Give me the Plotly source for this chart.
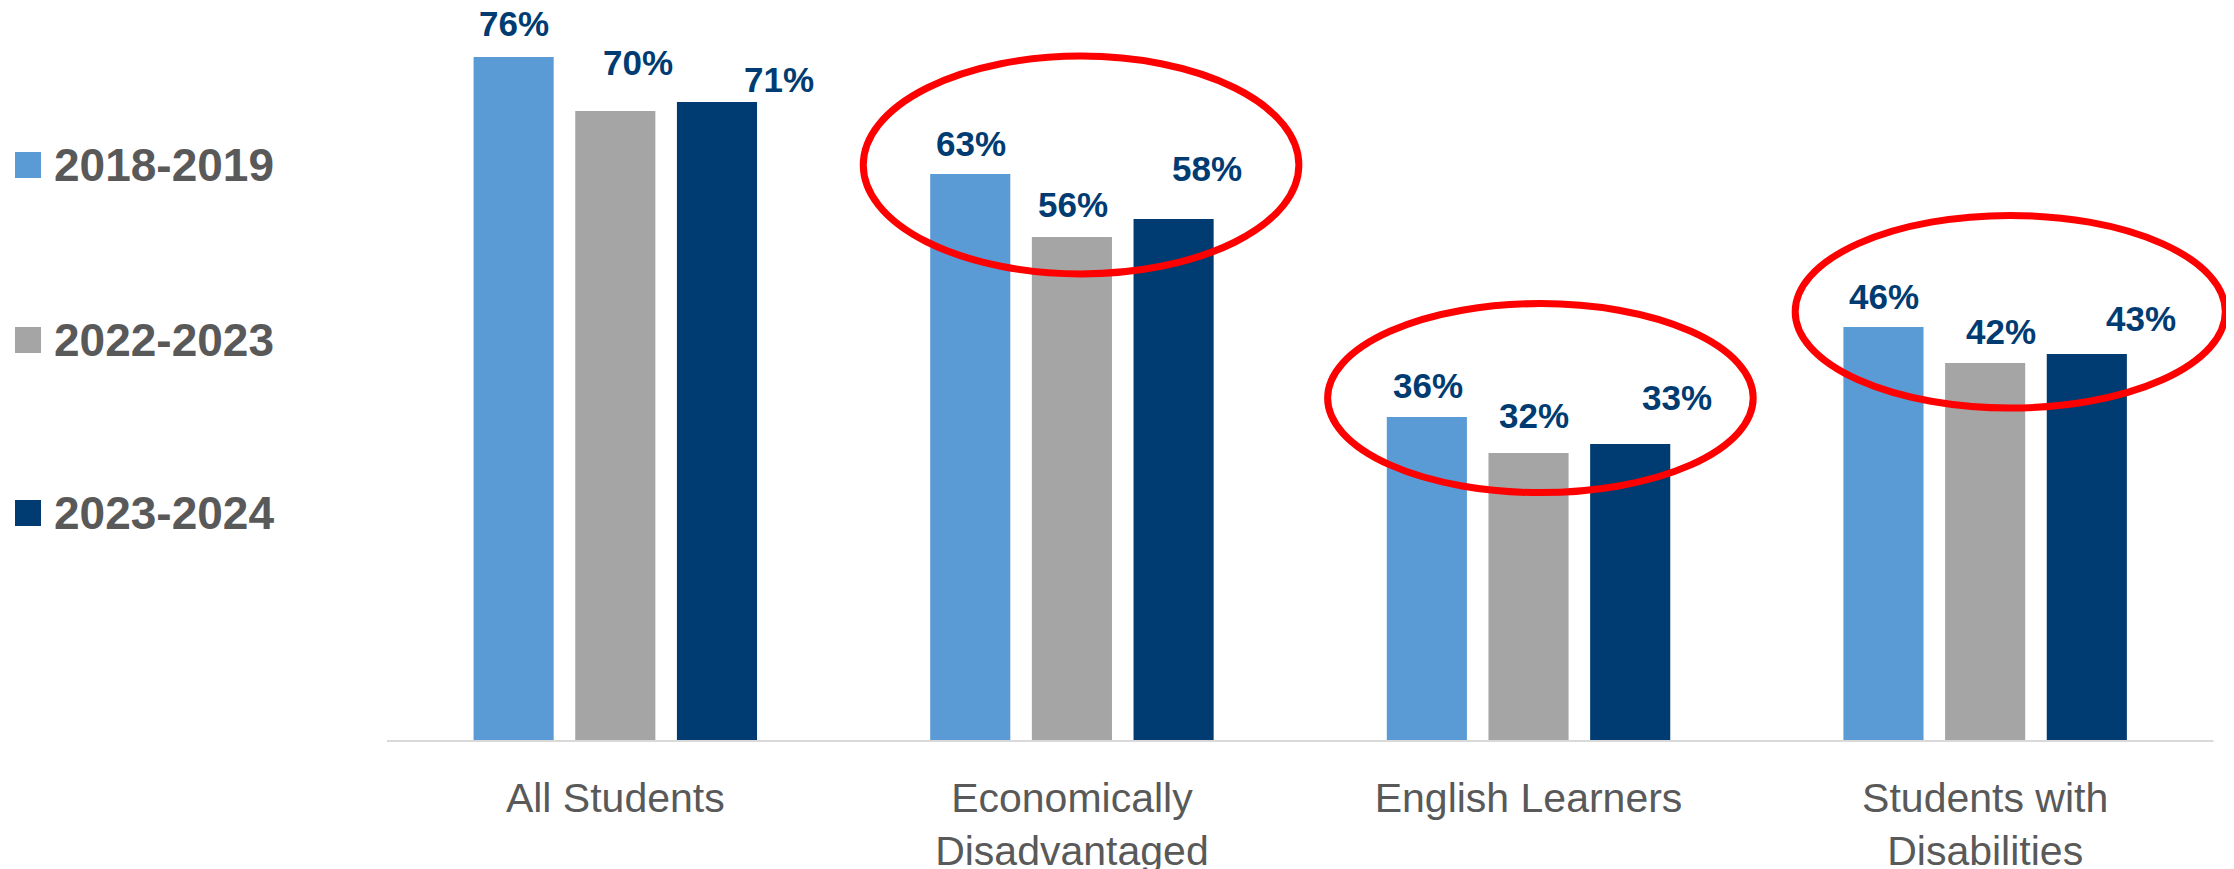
import plotly.graph_objects as go

categories = ["All Students", "Economically<br>Disadvantaged", "English Learners", "Students with<br>Disabilities"]
years = ["2018-2019", "2022-2023", "2023-2024"]
vals_2018 = [76, 63, 36, 46]
vals_2022 = [70, 56, 32, 42]
vals_2023 = [71, 58, 33, 43]
series = [vals_2018, vals_2022, vals_2023]

colors = ["#5b9bd5", "#a5a5a5", "#003b71"]
label_color = "#003b71"
text_grey = "#595959"
font_fam = "Liberation Sans, Arial, sans-serif"

# hand placed labels in the original: (xshift px, lift of label centre above bar top px)
label_nudge = [
    [(0, 34), (1, 31), (1, 32), (1, 31)],
    [(23, 49), (1, 33), (5, 38), (16, 32)],
    [(62, 23), (33, 51), (47, 47), (54, 36)],
]
# red rings: (category index, x offset, half width, y centre, half height)
rings = [(1, 0.02, 0.477, 64.0, 12.1), (2, 0.026, 0.466, 38.1, 10.5), (3, 0.055, 0.471, 47.7, 10.7)]

# page body adds an 8px margin, so the figure is drawn 8px smaller and everything shifted
off = 8
W, H = 2234 - off, 869 - off
ml, mr, mt, mb = 387 - off, 0, 21 - off, 128
bargap = 0.332
slot = (1 - bargap) / 3

fig = go.Figure()
for name, vals, col in zip(years, series, colors):
    fig.add_trace(go.Bar(x=list(range(len(categories))), y=vals, name=name,
                         marker=dict(color=col, line=dict(width=0)), showlegend=False))

for s, vals in enumerate(series):
    for i, v in enumerate(vals):
        dx, lift = label_nudge[s][i]
        fig.add_annotation(x=i + (s - 1) * slot, y=v, text=f"{v}%", showarrow=False,
                           xanchor="center", yanchor="middle", xshift=dx, yshift=lift,
                           font=dict(family=font_fam, size=35, color=label_color, weight="bold"))

for ci, dx, hw, yc, hh in rings:
    fig.add_shape(type="circle", xref="x", yref="y", x0=ci + dx - hw, x1=ci + dx + hw,
                  y0=yc - hh, y1=yc + hh, line=dict(color="#ff0000", width=7), layer="above")

# baseline
fig.add_shape(type="line", xref="x", yref="paper", x0=-0.5, x1=3.5, y0=0, y1=0,
              line=dict(color="#d9d9d9", width=2))

# legend drawn by hand (big square swatches); positions in page pixels
pw = W - ml - mr
ph = H - mt - mb
def px_x(p):
    return (p - off - ml) / pw
def px_y(p):
    return (H - mb - (p - off)) / ph

legend_y = [165, 340, 513]
for name, col, yc in zip(years, colors, legend_y):
    fig.add_shape(type="rect", xref="paper", yref="paper", x0=px_x(15), x1=px_x(41),
                  y0=px_y(yc + 13), y1=px_y(yc - 13), fillcolor=col, line=dict(width=0))
    fig.add_annotation(xref="paper", yref="paper", x=px_x(52), y=px_y(yc), text=name,
                       showarrow=False, xanchor="left", yanchor="middle",
                       font=dict(family=font_fam, size=46, color=text_grey, weight="bold"))

fig.update_layout(
    width=W, height=H,
    margin=dict(l=ml, r=mr, t=mt, b=mb),
    plot_bgcolor="white", paper_bgcolor="white",
    barmode="group", bargap=bargap, bargroupgap=0.212,
    xaxis=dict(tickmode="array", tickvals=list(range(len(categories))), ticktext=categories,
               range=[-0.5, 3.545], showgrid=False, zeroline=False, showline=False,
               ticklabelstandoff=29, automargin=False,
               tickfont=dict(family=font_fam, size=41, color=text_grey)),
    yaxis=dict(range=[0, 80], visible=False),
)

fig.write_html("out.html")
